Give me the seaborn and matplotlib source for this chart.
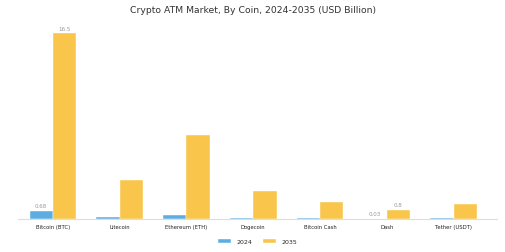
import pandas as pd
import numpy as np
import seaborn as sns
import matplotlib
matplotlib.use('Agg')
import matplotlib.pyplot as plt

sns.set_style('white')
plt.rcParams['font.family'] = ['DejaVu Sans']

coins = ['Bitcoin (BTC)', 'Litecoin', 'Ethereum (ETH)', 'Dogecoin',
         'Bitcoin Cash', 'Dash', 'Tether (USDT)']
vals_2024 = [0.68, 0.15, 0.3, 0.1, 0.08, 0.03, 0.1]
vals_2035 = [16.5, 3.5, 7.5, 2.5, 1.5, 0.8, 1.3]
years = ['2024', '2035']
colors = ['#5DADE2', '#F9C54B']

df = pd.DataFrame({'Coin': coins * 2,
                   'Year': [years[0]] * len(coins) + [years[1]] * len(coins),
                   'Value': vals_2024 + vals_2035})

fig = plt.figure(figsize=(5.05, 2.53), dpi=100)
ax = fig.add_axes([0.036, 0.131, 0.948, 0.806])

sns.barplot(data=df, x='Coin', y='Value', hue='Year', palette=colors,
            saturation=1, width=0.7, edgecolor='white', linewidth=0.3,
            ax=ax, legend=True)

ax.set_xlim(-0.52, 6.65)
ax.set_ylim(0, 18.15)
ax.set_xlabel('')
ax.set_ylabel('')
ax.set_yticks([])
for s in ['top', 'right', 'left']:
    ax.spines[s].set_visible(False)
ax.spines['bottom'].set_color('#dddddd')
ax.spines['bottom'].set_linewidth(0.8)
ax.tick_params(axis='x', labelsize=3.8, length=2, width=0.5, color='#bbbbbb',
               pad=1.5, labelcolor='#222222')

# value labels only where shown in the picture
labelled = {0: ('0.68', '16.5'), 5: ('0.03', '0.8')}
for i, (a, b) in labelled.items():
    ax.text(i - 0.175, vals_2024[i] + 0.25, a, ha='center', va='bottom', fontsize=4.1, color='#999999')
    ax.text(i + 0.175, vals_2035[i] + 0.25, b, ha='center', va='bottom', fontsize=4.1, color='#999999')

fig.text(0.5, 0.96, 'Crypto ATM Market, By Coin, 2024-2035 (USD Billion)',
         ha='center', va='center', fontsize=6.7, color='#333333')

ax.legend(loc='center', bbox_to_anchor=(0.5, -0.11), ncol=2, frameon=False,
          fontsize=4.5, handlelength=2.1, handleheight=0.7, columnspacing=1.7,
          handletextpad=0.9)

fig.savefig('out.png', dpi=100)
